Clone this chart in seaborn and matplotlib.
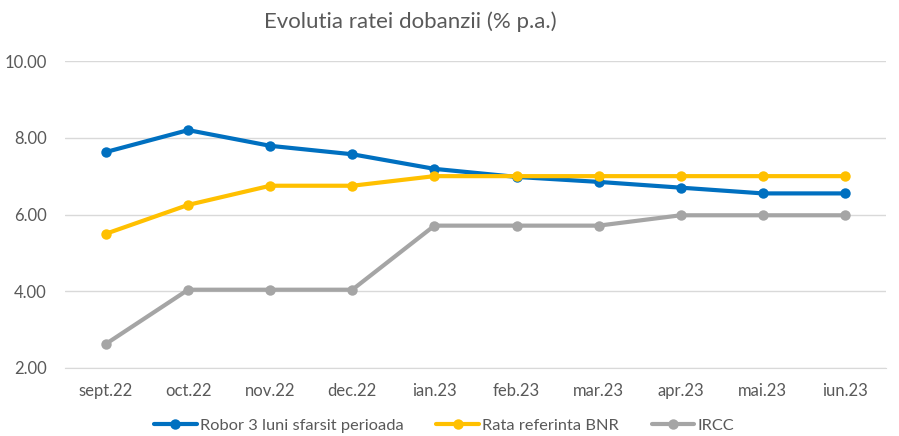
import pandas as pd
import seaborn as sns
import matplotlib.pyplot as plt
from matplotlib.ticker import FixedLocator, FormatStrFormatter

# data
months = ['sept.22', 'oct.22', 'nov.22', 'dec.22', 'ian.23',
          'feb.23', 'mar.23', 'apr.23', 'mai.23', 'iun.23']
robor = [7.63, 8.20, 7.79, 7.57, 7.19, 6.98, 6.85, 6.70, 6.55, 6.55]
bnr = [5.50, 6.25, 6.75, 6.75, 7.00, 7.00, 7.00, 7.00, 7.00, 7.00]
ircc = [2.63, 4.04, 4.04, 4.04, 5.71, 5.71, 5.71, 5.98, 5.98, 5.98]
series_names = ['Robor 3 luni sfarsit perioada', 'Rata referinta BNR', 'IRCC']
colors = ['#0070C0', '#FFC000', '#A5A5A5']

df = pd.concat([
    pd.DataFrame({'luna': months, 'rata': vals, 'serie': name})
    for name, vals in zip(series_names, [robor, bnr, ircc])
])

sns.set_style('white')
plt.rcParams['font.family'] = ['Lato', 'DejaVu Sans']

fig = plt.figure(figsize=(8.99, 4.36), dpi=100)
ax = fig.add_axes([0.0723, 0.156, 0.9132, 0.704])

sns.lineplot(data=df, x='luna', y='rata', hue='serie', palette=colors,
             marker='o', markersize=7.5, markeredgewidth=0, linewidth=3,
             sort=False, ax=ax, legend=True)

ax.set_xlim(-0.5, len(months) - 0.5)
ax.set_ylim(2, 10)
ax.set_yticks([2, 4, 6, 8, 10])
ax.yaxis.set_major_formatter(FormatStrFormatter('%.2f'))
ax.xaxis.set_minor_locator(FixedLocator([i - 0.5 for i in range(len(months) + 1)]))
ax.tick_params(axis='x', which='major', length=0, pad=11, labelsize=12, labelcolor='#595959')
ax.tick_params(axis='x', which='minor', length=5, color='#D9D9D9', width=1)
ax.tick_params(axis='y', length=0, pad=13, labelsize=12, labelcolor='#595959')
ax.grid(axis='y', color='#D9D9D9', linewidth=1)
ax.set_axisbelow(True)
for s in ['top', 'right', 'left']:
    ax.spines[s].set_visible(False)
ax.spines['bottom'].set_color('#D9D9D9')
ax.set_xlabel('')
ax.set_ylabel('')

handles, labels = ax.get_legend_handles_labels()
ax.legend_.remove()
fig.legend(handles, labels, loc='center', bbox_to_anchor=(0.494, 0.024), ncol=3,
           frameon=False, fontsize=11.8, labelcolor='#595959', handlelength=2.6,
           handletextpad=0.2, columnspacing=2.0, borderpad=0.1)

fig.text(410 / 899, 1 - 22 / 436, 'Evolutia ratei dobanzii (% p.a.)',
         ha='center', va='center', fontsize=16, color='#595959')

plt.savefig('out.png', dpi=100)
